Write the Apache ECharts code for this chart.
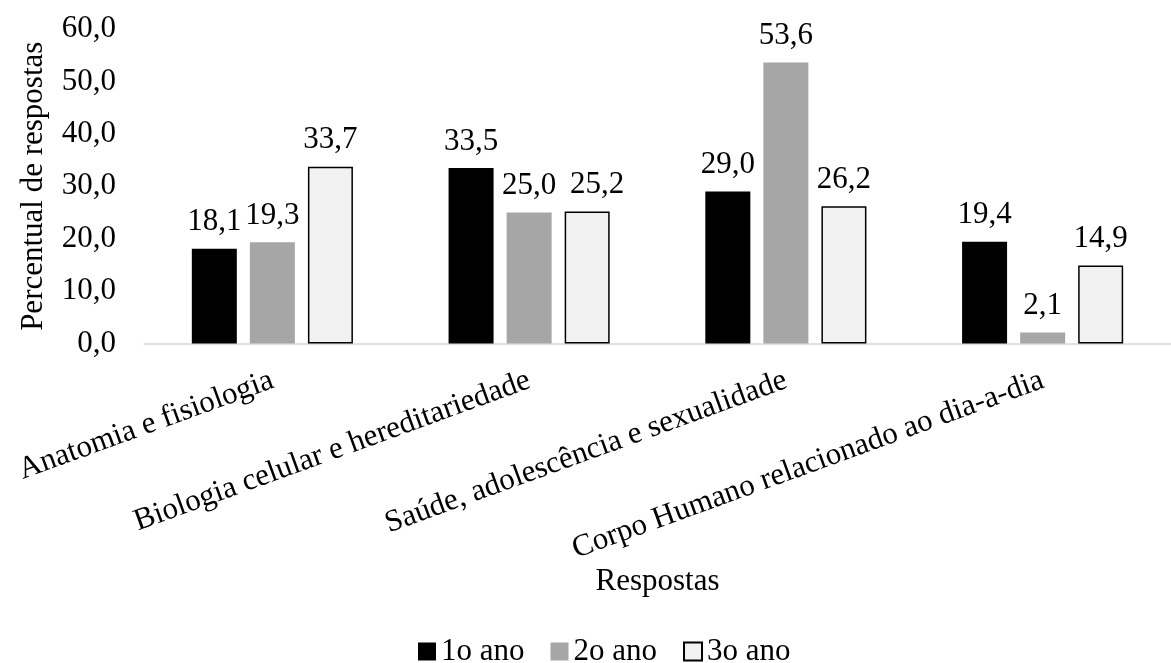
<!DOCTYPE html>
<html>
<head>
<meta charset="utf-8">
<script src="https://cdn.jsdelivr.net/npm/echarts@6/dist/echarts.min.js"></script>
<style>
  html, body { margin: 0; padding: 0; background: #fff; }
  #chart { width: 1171px; height: 663px; }
</style>
</head>
<body>
<div id="chart"></div>
<script>
// Topics of the answers (x axis)
const categories = [
  'Anatomia e fisiologia',
  'Biologia celular e hereditariedade',
  'Saúde, adolescência e sexualidade',
  'Corpo Humano relacionado ao dia-a-dia'
];
// Percentage of answers per school year
const ano1 = [18.1, 33.5, 29.0, 19.4];
const ano2 = [19.3, 25.0, 53.6, 2.1];
const ano3 = [33.7, 25.2, 26.2, 14.9];
const seriesNames = ['1o ano', '2o ano', '3o ano'];

const FONT = '"Liberation Serif", "Times New Roman", serif';
const FS = 31;
const fmt = v => v.toFixed(1).replace('.', ',');

const label = {
  show: true,
  position: 'top',
  distance: 11,
  fontFamily: FONT,
  fontSize: FS,
  color: '#000',
  formatter: p => fmt(p.value)
};

// the 3rd-year label of the second group is nudged right so it clears its neighbour
const ano3Data = ano3.map((v, i) => i === 1 ? { value: v, label: { offset: [10, 0] } } : v);

const chart = echarts.init(document.getElementById('chart'));
chart.setOption({
  animation: false,
  backgroundColor: '#fff',
  textStyle: { fontFamily: FONT, color: '#000' },
  grid: { left: 144, width: 1040, top: 29, height: 314.5 },
  legend: {
    top: 631,
    left: 413,
    itemWidth: 18,
    itemHeight: 18,
    itemGap: 26,
    textStyle: { fontFamily: FONT, fontSize: FS, color: '#000' },
    data: seriesNames.map(n => ({ name: n, icon: 'rect' }))
  },
  xAxis: {
    type: 'category',
    data: categories,
    name: 'Respostas',
    nameLocation: 'middle',
    nameGap: 220,
    nameTextStyle: { fontFamily: FONT, fontSize: FS, color: '#000' },
    axisLine: { lineStyle: { color: '#d9d9d9', width: 1.5 } },
    axisTick: { show: false },
    axisLabel: {
      rotate: 20,
      interval: 0,
      margin: 36,
      fontFamily: FONT,
      fontSize: FS,
      color: '#000'
    }
  },
  yAxis: {
    type: 'value',
    min: 0,
    max: 60,
    interval: 10,
    name: 'Percentual de respostas',
    nameLocation: 'middle',
    nameGap: 95,
    nameTextStyle: { fontFamily: FONT, fontSize: FS, color: '#000' },
    axisLine: { show: false },
    axisTick: { show: false },
    splitLine: { show: false },
    axisLabel: {
      margin: 28,
      fontFamily: FONT,
      fontSize: FS,
      color: '#000',
      formatter: v => fmt(v)
    }
  },
  series: [
    {
      name: seriesNames[0], type: 'bar', data: ano1,
      barWidth: 45, barGap: '29%',
      itemStyle: { color: '#000000' },
      label
    },
    {
      name: seriesNames[1], type: 'bar', data: ano2,
      barWidth: 45, barGap: '29%',
      itemStyle: { color: '#a6a6a6' },
      label
    },
    {
      name: seriesNames[2], type: 'bar', data: ano3Data,
      barWidth: 45, barGap: '29%',
      itemStyle: { color: '#f2f2f2', borderColor: '#000', borderWidth: 1.5 },
      label
    }
  ]
});
</script>
</body>
</html>
